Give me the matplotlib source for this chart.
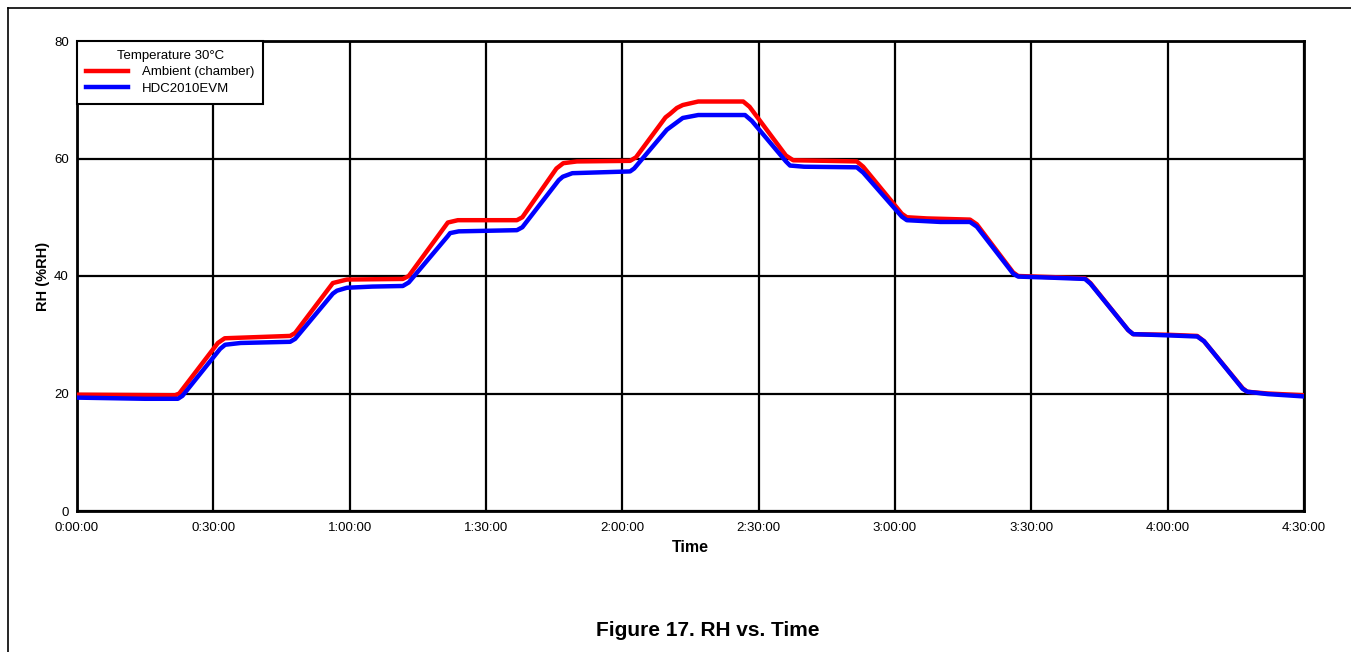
import numpy as np
import matplotlib.pyplot as plt
from matplotlib.lines import Line2D
from matplotlib.ticker import FuncFormatter

plt.rcParams['font.family'] = ['Liberation Sans', 'DejaVu Sans']

# time in minutes, RH in %
t_amb = [0, 21.6, 22.5, 31.0, 32.5, 36, 46.9, 48, 56.3, 59.4, 71.7, 73, 81.6, 83.8, 96.8,
         98, 105.5, 107, 110, 121.7, 123, 129.5, 130.5, 132, 133.3, 136.7, 146.6, 148, 156,
         157.6, 165, 171.6, 173, 181.5, 182.6, 187, 196.5, 198, 206, 207.1, 215, 221.8, 223,
         231.3, 232.4, 240, 246.5, 248, 256.5, 257.5, 262, 270]
rh_amb = [19.8, 19.7, 20.0, 28.6, 29.4, 29.5, 29.8, 30.3, 38.8, 39.4, 39.5, 40.0, 49.1, 49.5, 49.5,
          50.0, 58.3, 59.2, 59.5, 59.6, 60.2, 67.0, 67.6, 68.6, 69.1, 69.7, 69.7, 68.8, 60.5,
          59.7, 59.6, 59.5, 58.6, 50.6, 50.0, 49.8, 49.6, 48.8, 40.6, 40.0, 39.8, 39.6, 38.8,
          30.8, 30.1, 30.0, 29.8, 28.9, 20.9, 20.3, 20.0, 19.7]

t_evm = [0, 15, 22.2, 23.2, 31.5, 32.6, 36, 46.9, 48, 56.3, 57.2, 59.4, 65, 71.7, 73, 81.6, 82.1,
         84, 96.8, 98, 106, 106.9, 109, 121.7, 122.6, 129.8, 133.3, 136.7, 147, 148.5, 156,
         156.9, 160, 171.6, 173, 181.5, 182.6, 190, 196.5, 198, 206, 207.1, 215, 221.8, 223,
         231.3, 232.4, 240, 246.5, 248, 256.5, 257.5, 262, 270]
rh_evm = [19.3, 19.1, 19.1, 19.6, 27.6, 28.3, 28.6, 28.8, 29.3, 37.0, 37.5, 38.0, 38.2, 38.3, 38.9,
          46.8, 47.3, 47.6, 47.8, 48.3, 56.3, 56.9, 57.5, 57.8, 58.3, 64.9, 66.9, 67.4, 67.4,
          66.4, 59.5, 58.8, 58.6, 58.5, 57.6, 50.1, 49.5, 49.2, 49.2, 48.4, 40.4, 39.9, 39.7,
          39.5, 38.7, 30.8, 30.1, 29.9, 29.7, 28.9, 20.8, 20.3, 19.9, 19.5]

fig = plt.figure(figsize=(13.51, 6.52), dpi=100)
ax = fig.add_axes([77/1351, 1 - 511/652, (1304 - 77)/1351, (511 - 41)/652])

ax.plot(t_amb, rh_amb, color='#ff0000', lw=3.2, label='Ambient (chamber)', zorder=3)
ax.plot(t_evm, rh_evm, color='#0000ff', lw=3.2, label='HDC2010EVM', zorder=4)

ax.set_xlim(0, 270)
ax.set_ylim(0, 80)
ax.set_xticks(np.arange(0, 271, 30))
ax.set_yticks(np.arange(0, 81, 20))
ax.xaxis.set_major_formatter(FuncFormatter(lambda v, p: '%d:%02d:00' % (int(v) // 60, int(v) % 60)))
ax.grid(True, color='black', lw=1.6)
ax.set_axisbelow(True)
ax.tick_params(length=0, labelsize=9.5)
ax.tick_params(axis='x', pad=8)
ax.tick_params(axis='y', pad=6)
for s in ax.spines.values():
    s.set_linewidth(2)
    s.set_color('black')

ax.set_xlabel('Time', fontsize=11.5, fontweight='bold', labelpad=4)
ax.set_ylabel('RH (%RH)', fontsize=10.5, fontweight='bold', labelpad=3)

leg = ax.legend(loc='upper left', title='Temperature 30°C', fontsize=9.5, title_fontsize=9.5,
                fancybox=False, edgecolor='black', framealpha=1, borderaxespad=0,
                handlelength=3.2, handletextpad=1.0, borderpad=0.7, labelspacing=0.3)
leg.get_frame().set_linewidth(1.5)

fig.text(708/1351, 1 - 630/652, 'Figure 17. RH vs. Time', ha='center', va='center',
         fontsize=15, fontweight='bold')

# page frame lines
fig.add_artist(Line2D([8/1351, 8/1351], [0, 1 - 8/652], color='black', lw=1.2, transform=fig.transFigure))
fig.add_artist(Line2D([8/1351, 1], [1 - 8/652, 1 - 8/652], color='black', lw=1.2, transform=fig.transFigure))

fig.savefig('out.png', dpi=100)
